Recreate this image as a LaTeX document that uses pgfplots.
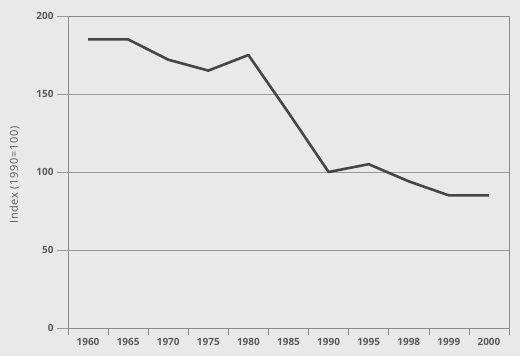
\documentclass[border=0pt]{standalone}
\usepackage{pgfplots}
\pgfplotsset{compat=1.18}
\usepackage{fontspec}
\setmainfont{Open Sans}
\definecolor{bg}{HTML}{E9E9E9}
\definecolor{frame}{HTML}{8C8C8C}
\definecolor{gridc}{HTML}{9A9A9A}
\definecolor{linec}{HTML}{464646}
\definecolor{txt}{HTML}{5A5A5A}
\begin{document}
\begin{tikzpicture}
\fill[bg] (-68bp,-28bp) rectangle (452bp,328bp);
\begin{axis}[
  scale only axis,
  width=441bp, height=312bp,
  xmin=-0.5, xmax=10.5,
  ymin=0, ymax=200,
  xtick={0,...,10},
  xticklabels={1960,1965,1970,1975,1980,1985,1990,1995,1998,1999,2000},
  minor xtick={-0.5,0.5,...,10.5},
  ytick={0,50,100,150,200},
  tick pos=left,
  tick align=outside,
  major tick length=11bp,
  minor tick length=7bp,
  major x tick style={draw=none},
  minor x tick style={draw=frame, line width=0.6bp},
  major y tick style={draw=gridc, line width=0.6bp},
  ymajorgrids,
  major grid style={draw=gridc, line width=0.6bp},
  axis line style={draw=frame, line width=0.8bp},
  tick label style={font=\fontsize{10}{11}\selectfont\bfseries, text=txt},
  xticklabel style={yshift=4bp},
  ylabel={Index (1990=100)},
  every axis y label/.style={at={(axis description cs:-0.121,0.49)}, rotate=90, anchor=center, font=\fontsize{11}{12}\selectfont\addfontfeatures{LetterSpace=6}, text=txt},
  /pgf/number format/assume math mode=true,
]
\addplot[linec, line width=2.6bp, line join=round] coordinates {
(0,185) (1,185) (2,172) (3,165) (4,175) (5,138) (6,100) (7,105) (8,94) (9,85) (10,85)
};
\end{axis}
\end{tikzpicture}
\end{document}
